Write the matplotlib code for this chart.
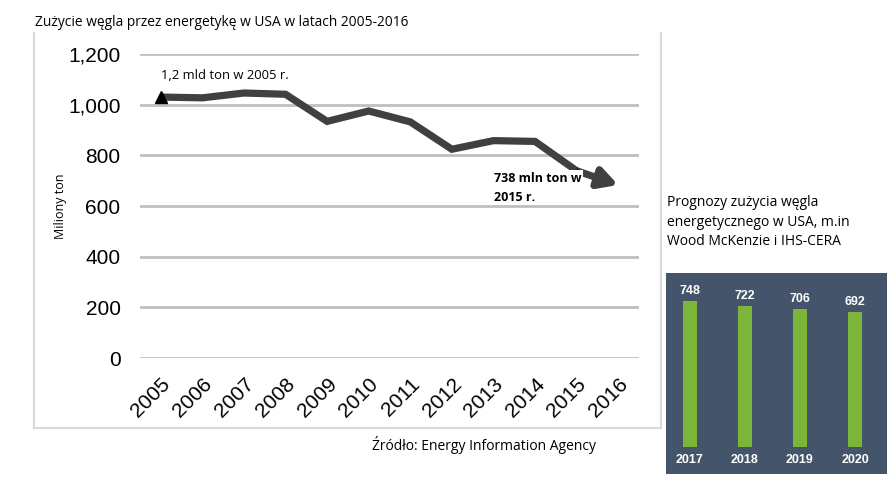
import matplotlib
matplotlib.use("Agg")
import matplotlib.pyplot as plt
import numpy as np

years = [str(y) for y in range(2005, 2017)]
coal_use = [1030, 1027, 1046, 1041, 934, 975, 932, 824, 858, 855, 739, 683]
fc_years = ["2017", "2018", "2019", "2020"]
fc_values = [748, 722, 706, 692]

W, H = 889, 480
fig = plt.figure(figsize=(W / 100, H / 100), dpi=100)
fig.patch.set_facecolor("white")

def px(x0, y0, x1, y1):
    # pixel box (top-left origin) -> figure fraction rect
    return [x0 / W, 1 - y1 / H, (x1 - x0) / W, (y1 - y0) / H]

txt_font = ["Open Sans", "DejaVu Sans"]
num_font = ["Liberation Sans", "DejaVu Sans"]

# frame around left chart (open on top)
frame = fig.add_axes(px(34, 33, 661, 428))
frame.set_xticks([]); frame.set_yticks([])
frame.patch.set_alpha(0)
frame.spines["top"].set_visible(False)
for s in ["left", "right", "bottom"]:
    frame.spines[s].set_color("#d9d9d9")
    frame.spines[s].set_linewidth(1.5)

fig.text(35 / W, 1 - 22 / H, "Zużycie węgla przez energetykę w USA w latach 2005-2016",
         fontsize=9.9, family=txt_font, va="center", ha="left")

ax = fig.add_axes(px(140, 54, 639, 358))
x = np.arange(len(years))
ax.set_xlim(-0.5, len(years) - 0.5)
ax.set_ylim(0, 1200)
ax.set_yticks([0, 200, 400, 600, 800, 1000, 1200])
ax.set_yticklabels(["0", "200", "400", "600", "800", "1,000", "1,200"],
                   fontsize=15, family=num_font)
ax.grid(axis="y", color="#bfbfbf", lw=2)
ax.set_axisbelow(True)
for s in ax.spines.values():
    s.set_visible(False)
ax.tick_params(length=0, pad=14)
ax.set_xticks(x)
ax.set_xticklabels(years, fontsize=15, family=num_font, rotation=45,
                   ha="right", va="top", rotation_mode="anchor")
ax.tick_params(axis="x", pad=12)
ax.set_ylabel("Miliony ton", fontsize=9, family=txt_font, labelpad=1)

ax.plot(x[:11], coal_use[:11], color="#404040", lw=5.2, solid_joinstyle="miter",
        solid_capstyle="butt", zorder=3)
ax.annotate("", xy=(x[11], coal_use[11]), xytext=(x[10], coal_use[10]),
            arrowprops=dict(arrowstyle="-|>,head_length=1.1,head_width=0.6",
                            lw=5.2, color="#404040", shrinkA=0, shrinkB=0),
            zorder=3)
ax.plot(x[0], coal_use[0], marker="^", ms=9, color="black", zorder=4)
ax.plot(x[10], coal_use[10], marker="^", ms=5, color="#202020", zorder=4)

ax.text(0, 1115, "1,2 mld ton w 2005 r.", fontsize=9.4, family=txt_font,
        ha="left", va="center", zorder=5)
ax.text(8.02, 673, "738 mln ton w\n2015 r.", fontsize=9, family=txt_font,
        fontweight="bold", ha="left", va="center", linespacing=1.6, zorder=5,
        bbox=dict(facecolor="white", edgecolor="none", pad=1))

fig.text(372 / W, 1 - 445 / H, "Źródło: Energy Information Agency",
         fontsize=10, family=txt_font, ha="left", va="center")

# forecast panel
fig.text(667 / W, 1 - 222 / H,
         "Prognozy zużycia węgla\nenergetycznego w USA, m.in\nWood McKenzie i IHS-CERA",
         fontsize=10, family=txt_font, ha="left", va="center", linespacing=1.45)

bx = fig.add_axes(px(666, 273, 887, 474))
bx.set_facecolor("#44546a")
bpos = np.arange(len(fc_years))
bx.bar(bpos, fc_values, width=0.254, color="#7db43a")
bx.set_xlim(-0.426, 3.578)
bx.set_ylim(-138, 892)
bx.set_xticks([]); bx.set_yticks([])
for s in bx.spines.values():
    s.set_visible(False)
for i, v in enumerate(fc_values):
    bx.annotate(str(v), (bpos[i], v), xytext=(0, 3), textcoords="offset points",
                ha="center", va="bottom", color="white", fontsize=9,
                fontweight="bold", family=num_font)
    bx.text(bpos[i], -67, fc_years[i], ha="center", va="center", color="white",
            fontsize=9, fontweight="bold", family=num_font)

fig.savefig("out.png", dpi=100)
